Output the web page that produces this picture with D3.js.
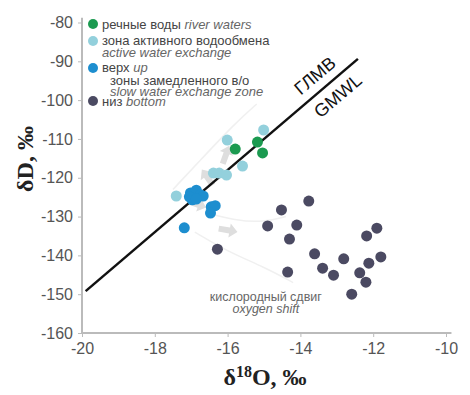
<!DOCTYPE html>
<html>
<head>
<meta charset="utf-8">
<style>
html, body { margin: 0; padding: 0; background: #fff; }
svg { display: block; font-family: "Liberation Sans", Arial, sans-serif; }
.tick text { font-size: 16px; fill: #555; }
.tick line { stroke: #bbb; }
.axisline { stroke: #bbb; stroke-width: 2; }
.title { font-family: "Liberation Serif", "Times New Roman", serif; font-weight: bold; font-size: 24px; fill: #222; }
.leg { font-size: 13px; fill: #444; }
.leg .en { font-style: italic; fill: #666; }
.note { font-size: 12.5px; fill: #666; text-anchor: middle; }
</style>
</head>
<body>
<script src="https://cdn.jsdelivr.net/npm/d3@7"></script>
<script>
var width = 470
var height = 395

// δ18O, δD pairs
var riverWaters = [[-15.79, -112.6], [-15.18, -110.8], [-15.04, -113.6]]
var activeExchange = [[-15.01, -107.7], [-16.01, -110.3], [-15.59, -117.0], [-16.39, -118.8],
    [-16.23, -118.8], [-16.03, -119.3], [-17.41, -124.7]]
var slowUp = [[-17.02, -123.9], [-16.86, -123.2], [-16.75, -124.4], [-16.97, -125.7],
    [-16.67, -124.7], [-17.05, -124.9], [-16.86, -125.5], [-16.45, -127.5], [-16.34, -127.2],
    [-16.47, -129.1], [-17.19, -132.9]]
var slowBottom = [[-16.28, -138.4], [-13.77, -126.0], [-14.52, -128.3], [-14.90, -132.4],
    [-14.10, -132.2], [-14.30, -135.8], [-13.61, -139.6], [-12.81, -140.9], [-13.39, -143.3],
    [-13.09, -145.1], [-14.35, -144.3], [-11.90, -133.0], [-12.18, -135.0], [-11.79, -140.4],
    [-12.12, -142.0], [-12.37, -144.5], [-12.20, -146.9], [-12.59, -150.0]]

var xTicks = [-20, -18, -16, -14, -12, -10]
var yTicks = [-80, -90, -100, -110, -120, -130, -140, -150, -160]
var gmwlRange = [-19.9, -12.42]   // δD = 8·δ18O + 10

// faint shift arrows: position and direction (degrees)
var shiftArrows = [[-16.05, -114.2, -70], [-16.55, -120.0, -125], [-16.85, -126.8, 20], [-16.0, -133.5, 10]]

var series = [
    { ru: 'речные воды ', en: 'river waters', color: '#1b9a50', pts: riverWaters },
    { ru: 'зона активного водообмена', en: 'active water exchange', color: '#93d0dc', pts: activeExchange },
    { ru: 'верх ', en: 'up', color: '#1d8ecf', pts: slowUp },
    { ru: 'низ ', en: 'bottom', color: '#4b4a62', pts: slowBottom }
]

var svg = d3.select('body').append('svg')
    .attr('width', width)
    .attr('height', height)

var x = d3.scaleLinear().domain([-20, -10]).range([82, 446])
var y = d3.scaleLinear().domain([-160, -80]).range([333, 22.5])

// faint envelopes
var env = d3.line().curve(d3.curveBasis).x(function (d) { return x(d[0]) }).y(function (d) { return y(d[1]) })
var envelopes = [
    [[-17.5, -123], [-16.8, -116], [-15.8, -106], [-15.2, -101]],
    [[-16.6, -129], [-15.8, -131], [-15.0, -131.5], [-14.4, -130]],
    [[-16.9, -134], [-16.0, -139], [-15.0, -143], [-14.2, -147]]
]
svg.selectAll('path.env').data(envelopes).enter().append('path')
    .attr('class', 'env')
    .attr('d', env)
    .attr('fill', 'none')
    .attr('stroke', '#f0f0f0')
    .attr('stroke-width', 1.5)

// axes
svg.append('g')
    .attr('transform', 'translate(0,' + y(-160) + ')')
    .call(d3.axisBottom(x).tickValues(xTicks).tickSize(4).tickPadding(6).tickFormat(d3.format('d')))
    .call(function (g) { g.select('.domain').remove() })
svg.append('g')
    .attr('transform', 'translate(' + x(-20) + ',0)')
    .call(d3.axisLeft(y).tickValues(yTicks).tickSize(4).tickPadding(5).tickFormat(d3.format('d')))
    .call(function (g) { g.select('.domain').remove() })
svg.selectAll('.tick text').text(function (d) { return String(d).replace('−', '-') })

svg.append('line').attr('class', 'axisline')
    .attr('x1', x(-20)).attr('x2', x(-20)).attr('y1', y(-78.8)).attr('y2', y(-160))
svg.append('line').attr('class', 'axisline')
    .attr('x1', x(-20)).attr('x2', x(-9.85)).attr('y1', y(-160)).attr('y2', y(-160))

// arrows
var arrowPath = 'M-9,-3 L2,-3 L2,-7 L10,0 L2,7 L2,3 L-9,3 Z'
svg.selectAll('path.arrow').data(shiftArrows).enter().append('path')
    .attr('d', arrowPath)
    .attr('fill', '#dedede')
    .attr('transform', function (d) { return 'translate(' + x(d[0]) + ',' + y(d[1]) + ') rotate(' + d[2] + ')' })

// GMWL
svg.append('line')
    .attr('x1', x(gmwlRange[0])).attr('y1', y(8 * gmwlRange[0] + 10))
    .attr('x2', x(gmwlRange[1])).attr('y2', y(8 * gmwlRange[1] + 10))
    .attr('stroke', '#111').attr('stroke-width', 2.5)

var ang = Math.atan2(y(8 * -12 + 10) - y(8 * -13 + 10), x(-12) - x(-13)) * 180 / Math.PI
svg.append('text').text('ГЛМВ')
    .attr('transform', 'translate(' + x(-13.49) + ',' + y(-94.9) + ') rotate(' + ang + ')')
    .attr('text-anchor', 'middle').attr('font-size', 18).attr('fill', '#111')
svg.append('text').text('GMWL')
    .attr('transform', 'translate(' + x(-12.86) + ',' + y(-100.1) + ') rotate(' + ang + ')')
    .attr('text-anchor', 'middle').attr('font-size', 18).attr('fill', '#111')

// points
series.forEach(function (s) {
    svg.append('g').selectAll('circle').data(s.pts).enter().append('circle')
        .attr('cx', function (d) { return x(d[0]) })
        .attr('cy', function (d) { return y(d[1]) })
        .attr('r', 5.5)
        .attr('fill', s.color)
})

// legend
var legY = [24, 41, 68, 101]
var leg = svg.append('g')
series.forEach(function (s, i) {
    leg.append('circle').attr('cx', 93).attr('cy', legY[i]).attr('r', 5).attr('fill', s.color)
})
var t0 = leg.append('text').attr('class', 'leg').attr('x', 102).attr('y', legY[0] + 5)
t0.append('tspan').text(series[0].ru)
t0.append('tspan').attr('class', 'en').text(series[0].en)
leg.append('text').attr('class', 'leg').attr('x', 102).attr('y', legY[1] + 4).text(series[1].ru)
leg.append('text').attr('class', 'leg').attr('x', 102).attr('y', legY[1] + 16)
    .append('tspan').attr('class', 'en').text(series[1].en)
var t2 = leg.append('text').attr('class', 'leg').attr('x', 102).attr('y', legY[2] + 4)
t2.append('tspan').text(series[2].ru)
t2.append('tspan').attr('class', 'en').text(series[2].en)
leg.append('text').attr('class', 'leg').attr('x', 110).attr('y', 84.5).text('зоны замедленного в/о')
leg.append('text').attr('class', 'leg').attr('x', 110).attr('y', 95.5)
    .append('tspan').attr('class', 'en').text('slow water exchange zone')
var t3 = leg.append('text').attr('class', 'leg').attr('x', 102).attr('y', legY[3] + 5)
t3.append('tspan').text(series[3].ru)
t3.append('tspan').attr('class', 'en').text(series[3].en)

// note
svg.append('text').attr('class', 'note').attr('x', x(-14.95)).attr('y', 301).text('кислородный сдвиг')
svg.append('text').attr('class', 'note').attr('x', x(-14.95)).attr('y', 313)
    .style('font-style', 'italic').text('oxygen shift')

// titles
var xt = svg.append('text').attr('class', 'title').attr('x', 265).attr('y', 385).attr('text-anchor', 'middle')
xt.append('tspan').text('δ')
xt.append('tspan').attr('dy', -8).attr('font-size', 16).text('18')
xt.append('tspan').attr('dy', 8).text('O, ‰')

svg.append('text').attr('class', 'title')
    .attr('transform', 'translate(33,159) rotate(-90)')
    .attr('text-anchor', 'middle').text('δD, ‰')
</script>
</body>
</html>
